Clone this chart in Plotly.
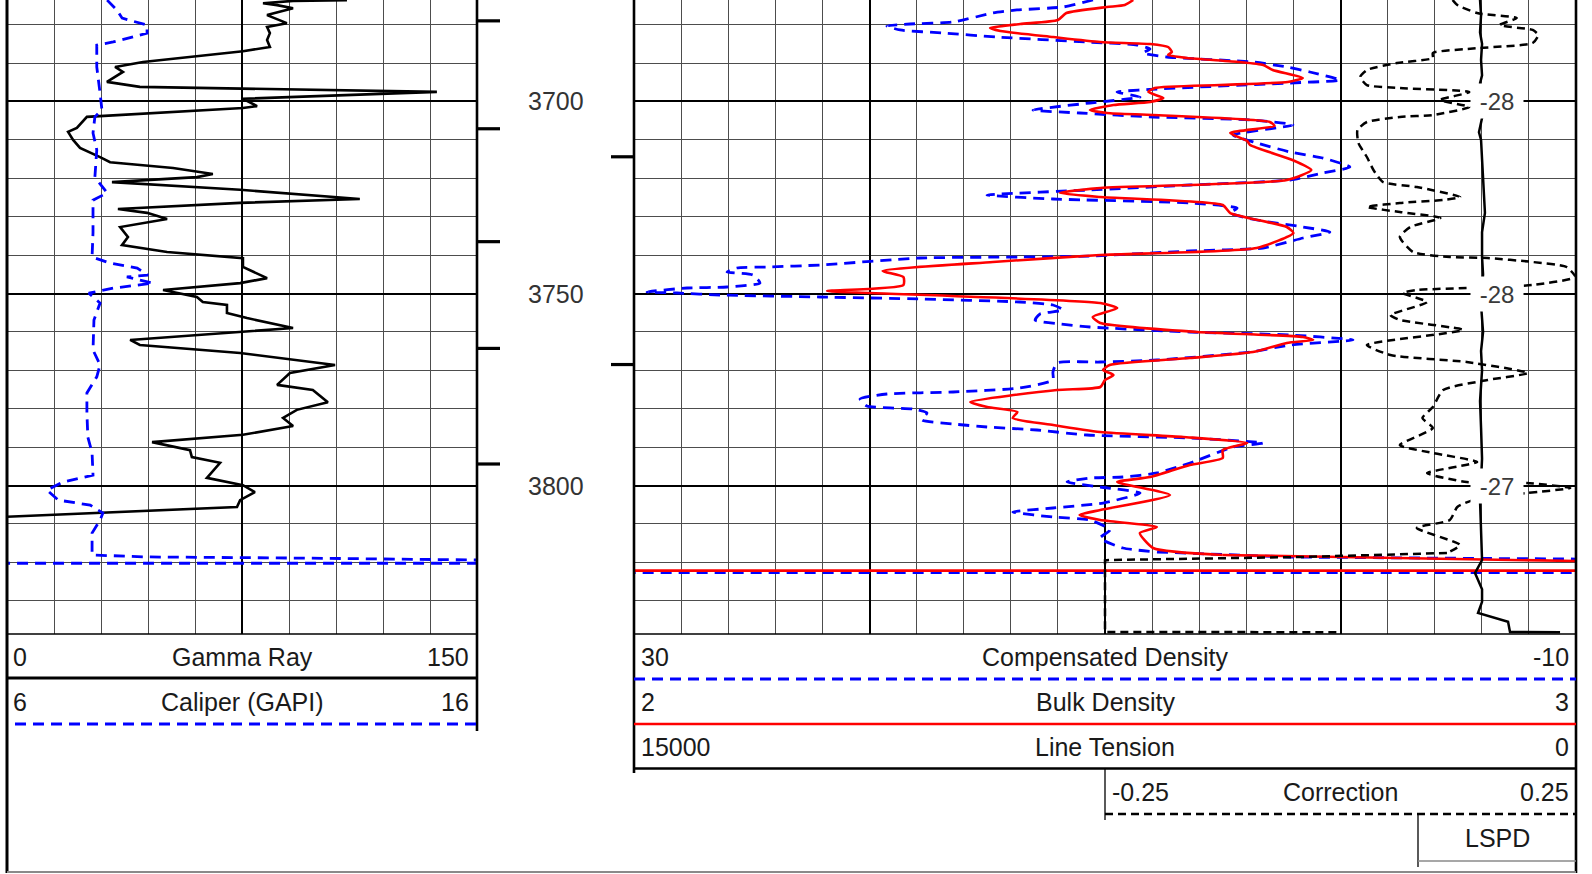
import plotly.graph_objects as go

# ---------------------------------------------------------------- data
TOP_DEPTH, BOTTOM_DEPTH = 3673.57, 3838.67

# (depth, value) pairs
gr_points = [
    (3673.6, 108.5), (3673.8, 91.3), (3674.4, 81.7), (3674.9, 86.2), (3675.7, 91.3),
    (3677.5, 83.0), (3679.6, 89.3), (3680.6, 83.0), (3682.2, 83.9), (3684.0, 83.0),
    (3685.8, 83.9), (3686.9, 75.3), (3689.7, 43.4), (3691.0, 34.5), (3692.3, 37.0),
    (3694.9, 31.9), (3696.2, 42.4), (3696.7, 74.4), (3697.5, 137.2), (3699.3, 75.3),
    (3701.2, 79.8), (3701.7, 75.3), (3704.0, 25.5), (3706.9, 22.3), (3707.9, 19.5),
    (3710.0, 21.1), (3712.1, 23.3), (3714.5, 29.7), (3715.8, 32.9), (3717.3, 53.0),
    (3718.9, 65.7), (3719.7, 60.6), (3721.0, 33.5), (3723.0, 74.4), (3725.4, 112.6),
    (3726.4, 74.4), (3728.0, 35.4), (3729.0, 44.7), (3730.6, 51.1), (3732.7, 36.1),
    (3735.3, 38.6), (3737.4, 36.7), (3739.2, 51.1), (3740.8, 75.3), (3743.1, 75.3),
    (3746.0, 83.0), (3747.3, 74.4), (3749.1, 49.8), (3750.9, 60.6), (3752.2, 62.5),
    (3753.0, 70.2), (3755.1, 70.2), (3756.4, 76.6), (3759.0, 91.3), (3760.0, 75.3),
    (3762.1, 39.3), (3763.4, 42.4), (3765.5, 74.4), (3768.6, 104.7), (3770.7, 90.3),
    (3773.8, 86.2), (3775.1, 97.6), (3778.3, 102.4), (3780.3, 92.5), (3782.4, 88.1),
    (3784.5, 91.3), (3786.8, 75.3), (3788.7, 46.3), (3790.8, 58.4), (3792.6, 59.0),
    (3794.1, 68.0), (3798.0, 63.8), (3799.9, 75.3), (3801.7, 79.1), (3803.8, 74.4),
    (3805.6, 73.4), (3808.3, -5.0),
]

cal_points = [
    (3673.6, 8.13), (3676.2, 8.34), (3678.3, 8.45), (3680.1, 8.98), (3682.2, 8.98),
    (3684.5, 8.26), (3685.3, 7.91), (3691.0, 7.91), (3697.8, 7.98), (3702.2, 8.02),
    (3704.0, 7.87), (3708.2, 7.83), (3712.6, 7.91), (3719.7, 7.87), (3723.8, 8.13),
    (3725.7, 7.83), (3734.2, 7.83), (3740.5, 7.81), (3742.1, 8.19), (3743.4, 8.77),
    (3745.2, 9.00), (3745.7, 8.55), (3747.3, 9.11), (3748.6, 8.26), (3749.9, 7.74),
    (3752.5, 7.98), (3756.9, 7.85), (3764.7, 7.83), (3768.6, 7.98), (3771.7, 7.91),
    (3775.9, 7.70), (3781.1, 7.70), (3787.4, 7.72), (3791.5, 7.81), (3797.3, 7.83),
    (3799.1, 7.19), (3801.2, 6.85), (3803.8, 7.09), (3805.1, 7.77), (3807.2, 8.04),
    (3809.0, 7.98), (3812.4, 7.81), (3818.1, 7.81), (3818.6, 8.98), (3818.9, 12.23),
    (3819.4, 16.0), (3820.2, 999.0), (3820.3, -999.0),
]

cden_points = [
    (3673.57, 10.51), (3675.39, 11.78), (3676.17, 13.74), (3676.96, 14.76), (3679.30, 16.45),
    (3679.82, 18.28), (3680.34, 19.26), (3681.38, 18.70), (3682.16, 16.88), (3683.21, 14.59),
    (3684.51, 10.76), (3685.29, 8.64), (3686.33, 8.09), (3687.37, 8.39), (3688.41, 7.37),
    (3689.72, 3.72), (3691.02, 2.27), (3692.32, 1.30), (3694.40, 0.02), (3695.18, 2.14),
    (3696.75, 7.79), (3697.53, 9.49), (3698.83, 8.51), (3700.39, 10.64), (3702.22, 13.06),
    (3703.00, 11.06), (3704.04, 7.96), (3704.82, 3.72), (3706.12, 2.02), (3708.73, 4.56),
    (3710.81, 3.55), (3713.15, 2.14), (3714.72, 0.74), (3717.06, -0.40), (3718.62, 0.74),
    (3720.44, 2.14), (3721.75, 6.39), (3723.05, 10.64), (3724.35, 15.01), (3725.39, 12.21),
    (3726.43, 6.39), (3727.74, 4.39), (3729.04, 4.69), (3730.86, 3.55), (3732.68, 1.59),
    (3733.99, 0.45), (3735.55, 1.59), (3738.15, 3.29), (3738.93, 6.39), (3740.24, 10.64),
    (3740.50, 13.61), (3740.76, 17.86), (3742.58, 22.10), (3743.10, 24.35), (3743.36, 25.63),
    (3744.40, 26.05), (3745.19, 24.95), (3747.27, 24.65), (3748.31, 26.05), (3748.57, 27.75),
    (3749.61, 29.45), (3749.87, 28.17), (3750.39, 26.35), (3750.91, 22.10), (3751.43, 17.86),
    (3752.22, 13.61), (3753.00, 12.21), (3754.30, 11.78), (3755.34, 12.76), (3756.90, 12.97),
    (3757.94, 11.91), (3758.73, 10.64), (3760.03, 6.39), (3760.81, 2.14), (3762.11, -0.53),
    (3763.41, 2.14), (3765.24, 3.84), (3767.32, 7.79), (3767.84, 10.21), (3768.10, 12.04),
    (3770.44, 12.21), (3772.53, 12.21), (3774.61, 13.61), (3775.65, 16.45), (3776.17, 19.26),
    (3777.48, 20.40), (3779.30, 20.11), (3780.08, 18.15), (3781.12, 17.56), (3782.94, 17.77),
    (3783.98, 16.45), (3784.77, 15.01), (3785.55, 12.89), (3786.85, 10.76), (3787.63, 6.39),
    (3788.93, 3.29), (3789.97, 4.56), (3794.14, 6.39), (3796.74, 7.79), (3797.79, 9.24),
    (3798.05, 10.64), (3799.09, 11.61), (3800.39, 10.21), (3801.96, 8.51), (3804.56, 10.08),
    (3805.86, 12.21), (3806.90, 13.91), (3808.21, 12.21), (3808.99, 10.64), (3811.59, 9.79),
    (3813.68, 10.21), (3816.28, 9.24), (3817.32, 7.79), (3818.62, 2.14), (3818.89, -3.50),
    (3819.15, -10.0), (3822.66, -999.0), (3822.74, 999.0),
]

rhob_points = [
    (3673.57, 2.530), (3674.87, 2.521), (3675.39, 2.502), (3676.96, 2.459), (3678.78, 2.450),
    (3679.82, 2.410), (3680.86, 2.378), (3681.64, 2.389), (3683.21, 2.445), (3684.51, 2.495),
    (3685.03, 2.548), (3685.81, 2.567), (3687.11, 2.571), (3687.89, 2.567), (3688.67, 2.587),
    (3689.72, 2.643), (3690.50, 2.668), (3691.80, 2.678), (3693.88, 2.710), (3694.92, 2.694),
    (3695.71, 2.622), (3696.49, 2.553), (3697.53, 2.546), (3699.09, 2.562), (3700.13, 2.548),
    (3700.91, 2.509), (3702.22, 2.484), (3703.00, 2.502), (3703.52, 2.551), (3705.34, 2.675),
    (3706.38, 2.680), (3708.20, 2.633), (3710.29, 2.651), (3711.33, 2.654), (3715.24, 2.699),
    (3717.84, 2.719), (3720.44, 2.693), (3722.53, 2.495), (3723.83, 2.452), (3724.87, 2.495),
    (3726.96, 2.625), (3729.04, 2.633), (3732.68, 2.693), (3734.25, 2.700), (3738.15, 2.661),
    (3739.98, 2.495), (3741.80, 2.381), (3744.14, 2.264), (3745.71, 2.286), (3747.79, 2.286),
    (3749.35, 2.205), (3749.87, 2.251), (3752.48, 2.495), (3753.78, 2.513), (3756.12, 2.487),
    (3757.68, 2.495), (3760.03, 2.598), (3761.33, 2.710), (3762.11, 2.721), (3762.89, 2.693),
    (3765.24, 2.657), (3766.80, 2.590), (3768.62, 2.505), (3769.93, 2.498), (3771.23, 2.509),
    (3772.53, 2.500), (3774.35, 2.495), (3775.13, 2.449), (3778.26, 2.357), (3779.56, 2.375),
    (3780.86, 2.407), (3782.42, 2.402), (3784.25, 2.445), (3786.07, 2.495), (3787.37, 2.583),
    (3788.93, 2.651), (3790.76, 2.625), (3792.84, 2.625), (3794.66, 2.590), (3797.79, 2.548),
    (3799.09, 2.513), (3802.48, 2.569), (3806.38, 2.495), (3807.69, 2.473), (3808.99, 2.495),
    (3810.81, 2.555), (3812.37, 2.537), (3816.28, 2.551), (3818.10, 2.625), (3818.89, 2.838),
    (3819.67, 3.000), (3822.14, 99.0), (3822.22, -99.0),
]

corr_points = [
    (3673.57, 0.119), (3674.87, 0.124), (3676.96, 0.145), (3678.26, 0.187), (3680.08, 0.169),
    (3681.38, 0.204), (3682.68, 0.210), (3684.77, 0.204), (3686.07, 0.148), (3687.37, 0.098),
    (3688.67, 0.098), (3689.98, 0.060), (3691.80, 0.028), (3693.62, 0.021), (3695.71, 0.028),
    (3696.49, 0.063), (3697.53, 0.137), (3699.61, 0.106), (3701.43, 0.137), (3703.52, 0.098),
    (3704.04, 0.063), (3705.34, 0.028), (3707.42, 0.018), (3710.81, 0.019), (3714.46, 0.028),
    (3717.84, 0.035), (3720.97, 0.045), (3722.27, 0.081), (3724.87, 0.127), (3725.65, 0.109),
    (3726.43, 0.063), (3727.48, 0.028), (3728.78, 0.063), (3730.34, 0.106), (3732.68, 0.074),
    (3735.29, 0.063), (3739.20, 0.077), (3740.50, 0.116), (3740.76, 0.156), (3741.80, 0.204),
    (3743.10, 0.240), (3745.71, 0.249), (3747.79, 0.204), (3748.57, 0.134), (3749.09, 0.081),
    (3749.87, 0.066), (3752.22, 0.092), (3755.60, 0.053), (3756.90, 0.063), (3759.50, 0.130),
    (3763.41, 0.028), (3766.02, 0.053), (3767.84, 0.134), (3770.70, 0.199), (3772.53, 0.156),
    (3775.13, 0.109), (3779.56, 0.098), (3782.42, 0.087), (3785.03, 0.098), (3789.46, 0.063),
    (3791.54, 0.098), (3793.88, 0.145), (3796.77, 0.092), (3799.09, 0.134), (3799.35, 0.198),
    (3800.65, 0.244), (3801.96, 0.198), (3803.78, 0.141), (3805.60, 0.124), (3808.99, 0.116),
    (3811.07, 0.081), (3815.50, 0.127), (3817.58, 0.113), (3818.62, -0.043), (3819.40, -0.245),
    (3819.50, -0.250), (3838.15, -0.250), (3838.20, 0.0),
]

tension_points = [
    (3673.57, 1528), (3677.5, 1512), (3682.0, 1528), (3685.0, 1496), (3689.2, 1512),
    (3693.2, 1496), (3695.2, 1528), (3704.3, 1496), (3708.0, 1545), (3710.0, 1512),
    (3715.0, 1496), (3720.3, 1480), (3725.0, 1464), (3729.0, 1450), (3734.0, 1496),
    (3740.5, 1496), (3745.0, 1480), (3753.0, 1512), (3760.0, 1480), (3765.0, 1512),
    (3770.0, 1496), (3778.0, 1528), (3785.0, 1512), (3793.0, 1496), (3804.0, 1528),
    (3812.0, 1512), (3819.4, 1496), (3822.8, 1608), (3827.0, 1496), (3830.3, 1496),
    (3833.2, 1560), (3835.5, 1082), (3838.15, 1051), (3838.2, 254),
]

lspd_depths = [3700, 3750, 3800]
lspd_values = [-28, -28, -27]
depth_labels = [3700, 3750, 3800]
left_mark_depths = [3679.0, 3707.1, 3736.5, 3764.3, 3794.4]
right_mark_depths = [3714.4, 3768.5]

# ---------------------------------------------------------------- layout (pixels)
W, H = 1592, 874
T1 = (7, 477)        # gamma ray track
DT = (477, 634)      # depth track
T2 = (634, 1576)     # density track
GRID_BOTTOM = 634
FONT = "Liberation Sans, Arial, sans-serif"


def px(x):
    return x / W


def py(y):
    return 1 - y / H


def unzip(points):
    return [p[1] for p in points], [p[0] for p in points]


fig = go.Figure()


def add_curve(points, xaxis, color, dash=None, width=2.5, smooth_until=None):
    """Draw a curve; optionally the first `smooth_until` points as a smoothed
    spline and the rest (off-scale tail) as straight segments."""
    line = dict(color=color, width=width)
    if dash:
        line["dash"] = dash
    parts = []
    if smooth_until:
        parts.append((points[:smooth_until], "spline"))
        parts.append((points[smooth_until - 1:], "linear"))
    else:
        parts.append((points, "linear"))
    for pts, shape in parts:
        vals, deps = unzip(pts)
        ln = dict(line, shape=shape)
        if shape == "spline":
            ln["smoothing"] = 0.55
        fig.add_trace(go.Scatter(x=vals, y=deps, xaxis=xaxis, yaxis="y", mode="lines",
                                 line=ln, hoverinfo="skip", showlegend=False))


def index_of(points, depth):
    return [p[0] for p in points].index(depth) + 1


add_curve(gr_points, "x", "black", width=2.6)
add_curve(cal_points, "x2", "#0000ff", dash="11px,7px", width=2.8)
add_curve(cden_points, "x3", "#0000ff", dash="11px,7px", width=2.8,
          smooth_until=index_of(cden_points, 3817.32))
add_curve(rhob_points, "x4", "#ff0000", width=2.6,
          smooth_until=index_of(rhob_points, 3818.10))
add_curve(tension_points, "x5", "black", width=2.5)
add_curve(corr_points, "x6", "black", dash="8px,5px", width=2.5,
          smooth_until=index_of(corr_points, 3817.58))

# depth track markers
mx, my = [], []
lw = (500 - DT[0]) / (DT[1] - DT[0])
rw = (611 - DT[0]) / (DT[1] - DT[0])
for d in left_mark_depths:
    mx += [0, lw, None]
    my += [d, d, None]
for d in right_mark_depths:
    mx += [rw, 1, None]
    my += [d, d, None]
fig.add_trace(go.Scatter(x=mx, y=my, xaxis="x7", yaxis="y3", mode="lines",
                         line=dict(color="black", width=3.2), hoverinfo="skip",
                         showlegend=False))

ydom = [py(GRID_BOTTOM), 1]
hidden = dict(visible=False, showgrid=False, zeroline=False)
grid_common = dict(showticklabels=False, ticks="", zeroline=False, showline=False,
                   showgrid=True, gridcolor="black", gridwidth=2.2)

fig.update_layout(
    width=W, height=H, margin=dict(l=0, r=0, t=0, b=0),
    paper_bgcolor="white", plot_bgcolor="white", showlegend=False,
    xaxis=dict(domain=[px(T1[0]), px(T1[1])], range=[0, 150], anchor="y",
               dtick=75, tick0=0,
               minor=dict(dtick=15, tick0=0, showgrid=True, gridcolor="#4d4d4d", gridwidth=1.1),
               **grid_common),
    xaxis2=dict(overlaying="x", range=[6, 16], anchor="y", **hidden),
    xaxis3=dict(domain=[px(T2[0]), px(T2[1])], range=[30, -10], anchor="y",
                dtick=10, tick0=0,
                minor=dict(dtick=2, tick0=0, showgrid=True, gridcolor="#4d4d4d", gridwidth=1.1),
                **grid_common),
    xaxis4=dict(overlaying="x3", range=[2, 3], anchor="y", **hidden),
    xaxis5=dict(overlaying="x3", range=[15000, 0], anchor="y", **hidden),
    xaxis6=dict(overlaying="x3", range=[-0.75, 0.25], anchor="y", **hidden),
    xaxis7=dict(domain=[px(DT[0]), px(DT[1])], range=[0, 1], anchor="y3", **hidden),
    yaxis=dict(domain=ydom, range=[BOTTOM_DEPTH, TOP_DEPTH], anchor="x",
               dtick=50, tick0=3700,
               minor=dict(dtick=10, tick0=3700, showgrid=True, gridcolor="#4d4d4d", gridwidth=1.1),
               **grid_common),
    yaxis3=dict(domain=ydom, range=[BOTTOM_DEPTH, TOP_DEPTH], anchor="x7", **hidden),
)

shapes = []


def hline(y, x0, x1, color="black", width=1.3, dash=None):
    line = dict(color=color, width=width)
    if dash:
        line["dash"] = dash
    shapes.append(dict(type="line", xref="paper", yref="paper",
                       x0=px(x0), x1=px(x1), y0=py(y), y1=py(y), line=line))


def vline(x, y0, y1, color="black", width=1.3):
    shapes.append(dict(type="line", xref="paper", yref="paper",
                       x0=px(x), x1=px(x), y0=py(y0), y1=py(y1),
                       line=dict(color=color, width=width)))


# frame / track borders
vline(T1[0], 0, 873, width=3)
vline(T1[1], 0, 731, width=2.6)
vline(T2[0], 0, 773, width=2.6)
vline(T2[1], 0, 873, width=2.6)
hline(872, T1[0], T2[1], color="#8a8a8a", width=2)
hline(GRID_BOTTOM, T1[0], T1[1], width=1.3)
hline(GRID_BOTTOM, T2[0], T2[1], width=1.3)

# header samples
hline(678, T1[0], T1[1], width=3)
hline(724, 15, T1[1], color="#0000ff", width=2.8, dash="11px,7px")
hline(679, T2[0], T2[1], color="#0000ff", width=2.8, dash="11px,7px")
hline(724, T2[0], T2[1], color="#ff0000", width=2.6)
hline(768.5, T2[0], T2[1], width=2.6)
vline(1105, 768, 820, width=1.3)
hline(814, 1105, T2[1], width=2.5, dash="8px,5px")
vline(1418, 814, 867, width=1.3)
hline(861, 1418, T2[1], color="#8a8a8a", width=1.3)

fig.update_layout(shapes=shapes)

annotations = []


def text(x, y, s, anchor="center", size=25, color="#1a1a1a"):
    annotations.append(dict(xref="paper", yref="paper", x=px(x), y=py(y), text=s,
                            showarrow=False, xanchor=anchor, yanchor="middle",
                            font=dict(family=FONT, size=size, color=color)))


c1 = (T1[0] + T1[1]) / 2
c2 = (T2[0] + T2[1]) / 2
text(11, 657, "0", "left"); text(c1, 657, "Gamma Ray"); text(471, 657, "150", "right")
text(11, 702, "6", "left"); text(c1, 702, "Caliper (GAPI)"); text(471, 702, "16", "right")
text(639, 657, "30", "left"); text(c2, 657, "Compensated Density"); text(1571, 657, "-10", "right")
text(639, 702, "2", "left"); text(c2, 702, "Bulk Density"); text(1571, 702, "3", "right")
text(639, 747, "15000", "left"); text(c2, 747, "Line Tension"); text(1571, 747, "0", "right")
text(1110, 792, "-0.25", "left"); text((1105 + T2[1]) / 2, 792, "Correction"); text(1571, 792, "0.25", "right")
text((1418 + T2[1]) / 2, 838, "LSPD")

for d in depth_labels:
    annotations.append(dict(xref="paper", yref="y", x=px((DT[0] + DT[1]) / 2), y=d,
                            text=str(d), showarrow=False, xanchor="center", yanchor="middle",
                            font=dict(family=FONT, size=25, color="#333333")))

for d, v in zip(lspd_depths, lspd_values):
    annotations.append(dict(xref="paper", yref="y", x=px(1497), y=d, text=str(v),
                            showarrow=False, xanchor="center", yanchor="middle",
                            bgcolor="white", borderpad=0, width=52, height=34,
                            font=dict(family=FONT, size=24, color="#3a3a3a")))

fig.update_layout(annotations=annotations)

fig.write_html("out.html", config={"displayModeBar": False},
               post_script="document.body.style.margin='0';document.body.style.overflow='hidden';")
